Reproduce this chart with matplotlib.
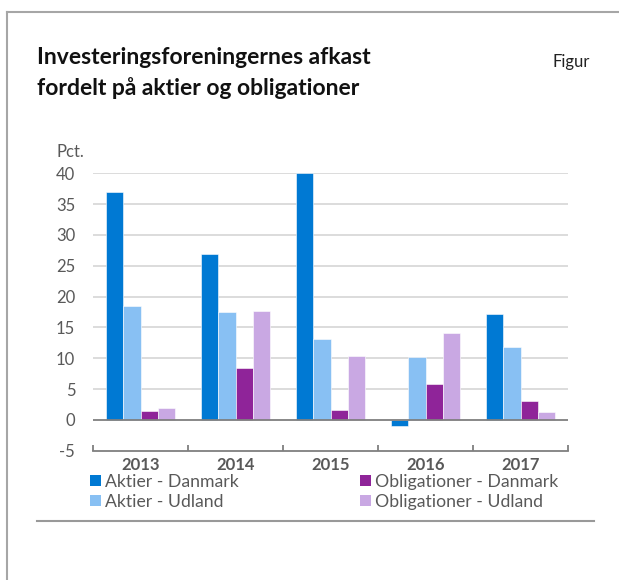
import numpy as np
import matplotlib
matplotlib.use('Agg')
import matplotlib.pyplot as plt
from matplotlib.lines import Line2D
from matplotlib.patches import Patch

plt.rcParams['font.family'] = ['Lato', 'DejaVu Sans']

# data
years = ['2013', '2014', '2015', '2016', '2017']
series = ['Aktier - Danmark', 'Aktier - Udland', 'Obligationer - Danmark', 'Obligationer - Udland']
aktier_dk = [37.0, 26.9, 40.0, -1.0, 17.2]
aktier_udland = [18.5, 17.5, 13.2, 10.2, 11.9]
oblig_dk = [1.5, 8.4, 1.6, 5.9, 3.1]
oblig_udland = [1.9, 17.7, 10.4, 14.1, 1.3]
values = [aktier_dk, aktier_udland, oblig_dk, oblig_udland]
colors = ['#0079d3', '#88c0f3', '#8f2499', '#c9a8e3']
yticks = [-5, 0, 5, 10, 15, 20, 25, 30, 35, 40]

W, H = 619, 580
fig = plt.figure(figsize=(W / 100, H / 100), dpi=100)

# axes placement (pixels)
x0, x1 = 93.3, 568
ytop, ybot = 173.3, 450.7
ax = fig.add_axes([x0 / W, 1 - ybot / H, (x1 - x0) / W, (ybot - ytop) / H])

grey = '#595959'
x = np.arange(len(years))
bw = 0.182
for i, (vals, c) in enumerate(zip(values, colors)):
    ax.bar(x + (i - 1.5) * bw, vals, width=bw, color=c, edgecolor='white',
           linewidth=0.4, zorder=3, label=series[i])

ax.set_xlim(-0.5, len(years) - 0.5)
ax.set_ylim(-5, 40)
ax.set_yticks(yticks)
ax.set_yticklabels([str(t) for t in yticks], color=grey, fontsize=12)
ax.tick_params(axis='y', length=0, pad=13)

# gridlines
for t in yticks[2:]:
    ax.axhline(t, color='#d9d9d9', lw=1.3, zorder=1)
ax.axhline(0, color='#7f7f7f', lw=1.3, zorder=4)

for s in ['top', 'right', 'left']:
    ax.spines[s].set_visible(False)
ax.spines['bottom'].set_color('#7f7f7f')
ax.spines['bottom'].set_linewidth(1.3)

ax.set_xticks(np.arange(len(years) + 1) - 0.5)
ax.set_xticklabels([])
ax.tick_params(axis='x', direction='in', length=4, color='#7f7f7f', width=1.3)
for xi, yr in zip(x, years):
    ax.text(xi, -6.0, yr, ha='center', va='top',
            fontsize=12, fontweight='bold', color=grey)

fig.text(57 / W, 1 - 152 / H, 'Pct.', fontsize=12, color=grey, va='center', ha='left')

# title
fig.text(37 / W, 1 - 58 / H, 'Investeringsforeningernes afkast', fontsize=16.5,
         fontweight='bold', color='#111111', va='center', ha='left')
fig.text(37 / W, 1 - 88 / H, 'fordelt på aktier og obligationer', fontsize=16.5,
         fontweight='bold', color='#111111', va='center', ha='left')
fig.text(553 / W, 1 - 62 / H, 'Figur', fontsize=12, color='#222222', va='center', ha='left')

# legend
handles = [Patch(facecolor=c, edgecolor='none') for c in colors]
leg = fig.legend(handles, series, ncol=2, loc='upper left',
                 bbox_to_anchor=(90 / W, 1 - 474 / H), frameon=False,
                 handlelength=0.6, handleheight=0.6, handletextpad=0.25,
                 columnspacing=6.9, labelspacing=0.2, fontsize=12.7,
                 borderaxespad=0, borderpad=0)
for t in leg.get_texts():
    t.set_color(grey)

# frame lines
fig.add_artist(Line2D([7 / W, 1], [1 - 12 / H] * 2, color='#a6a6a6', lw=1.5))
fig.add_artist(Line2D([7 / W] * 2, [1 - 12 / H, 0], color='#a6a6a6', lw=1.5))
fig.add_artist(Line2D([37 / W, 594 / W], [1 - 521 / H] * 2, color='#999999', lw=1.5))

fig.savefig('out.png', dpi=100)
